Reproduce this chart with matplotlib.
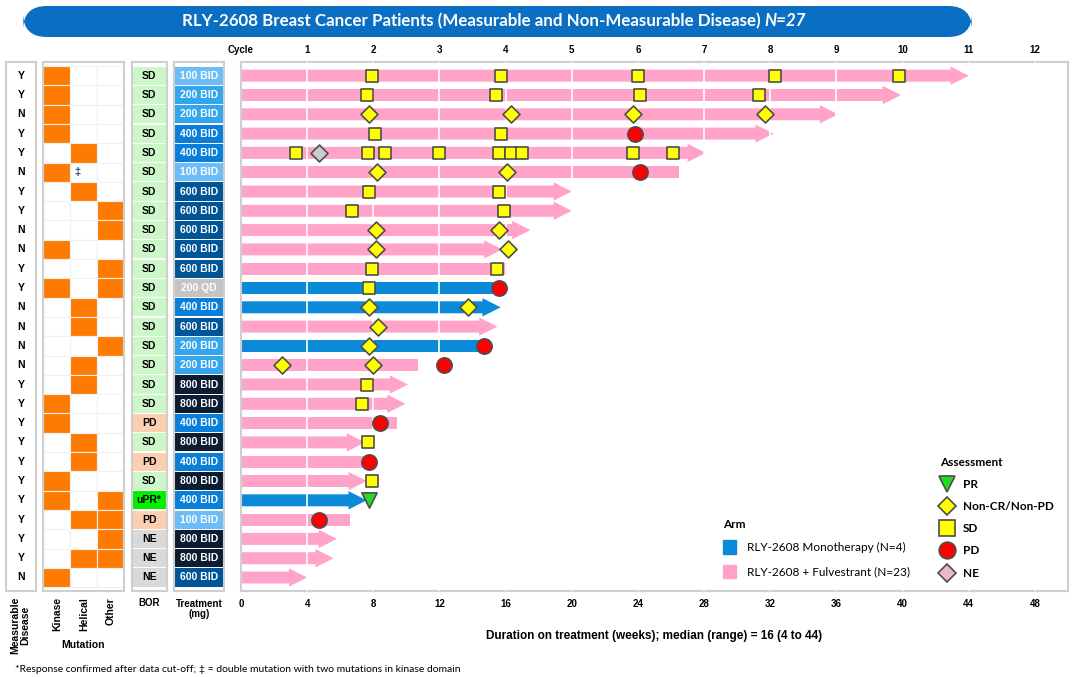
import matplotlib
matplotlib.use('Agg')
import matplotlib.pyplot as plt
from matplotlib.patches import FancyBboxPatch, Rectangle, Patch
from matplotlib.lines import Line2D

# ---- data (one entry per patient, top to bottom) ----
measurable = ['Y','Y','N','Y','Y','N','Y','Y','N','N','Y','Y','N','N','N','N','Y','Y','Y','Y','Y','Y','Y','Y','Y','Y','N']
kinase  = [1,1,1,1,0,1,0,0,0,1,0,1,0,0,0,0,0,1,1,0,0,1,1,0,0,0,1]
helical = [0,0,0,0,1,0,1,0,0,0,0,0,1,1,0,1,1,0,0,1,1,0,0,1,0,1,0]
other   = [0,0,0,0,0,0,0,1,1,0,1,1,0,0,1,0,0,0,0,0,0,0,1,1,1,1,0]
double_mut = [5]   # row index with double kinase mutation
bor = ['SD','SD','SD','SD','SD','SD','SD','SD','SD','SD','SD','SD','SD','SD','SD','SD','SD','SD','PD','SD','PD','SD','uPR*','PD','NE','NE','NE']
treatment = ['100 BID','200 BID','200 BID','400 BID','400 BID','100 BID','600 BID','600 BID','600 BID','600 BID','600 BID','200 QD',
             '400 BID','600 BID','200 BID','200 BID','800 BID','800 BID','400 BID','800 BID','400 BID','800 BID','400 BID','100 BID',
             '800 BID','800 BID','600 BID']
arm = ['F','F','F','F','F','F','F','F','F','F','F','M','M','F','M','F','F','F','F','F','F','F','M','F','F','F','F']
duration = [44.0,39.9,36.1,32.2,28.1,26.5,20.0,20.0,17.5,15.8,16.1,16.0,15.7,15.5,14.8,10.7,10.1,9.95,9.45,7.5,7.5,7.6,7.6,6.6,5.8,5.6,4.0]
ongoing = [1,1,1,1,1,0,1,1,1,1,0,0,1,1,0,0,1,1,0,1,0,1,1,0,1,1,1]

sd_wk  = [[7.9,15.7,24.0,32.3,39.8],[7.6,15.4,24.1,31.3],[],[8.1,15.7],
          [3.3,7.7,8.7,12.0,15.6,16.3,17.0,23.7,26.1],[],[7.75,15.6],[6.7,15.9],[],[],
          [7.9,15.45],[7.75],[],[],[],[],[7.6],[7.3],[],[7.7],[],[7.9],[],[],[],[],[]]
ncr_wk = [[],[],[7.75,16.3,23.7,31.7],[],[],[8.2,16.1],[],[],[8.15,15.6],[8.15,16.15],
          [],[],[7.75,13.7],[8.3],[7.75],[2.45,8.0],[],[],[],[],[],[],[],[],[],[],[]]
pd_wk  = [[],[],[],[23.8],[],[24.1],[],[],[],[],[],[15.6],[],[],[14.7],[12.3],[],[],[8.4],[],[7.75],[],[],[4.7],[],[],[]]
ne_wk  = [[],[],[],[],[4.7],[],[],[],[],[],[],[],[],[],[],[],[],[],[],[],[],[],[],[],[],[],[]]
pr_wk  = [[],[],[],[],[],[],[],[],[],[],[],[],[],[],[],[],[],[],[],[],[],[],[7.75],[],[],[],[]]

week_ticks = list(range(0, 49, 4))
cycle_labels = ['Cycle'] + [str(c) for c in range(1, 13)]

# ---- colours ----
PINK = '#ffa3c9'
BLUE = '#0a8ad9'
ORANGE = '#ff7a00'
GRID = '#cfcfcf'
trt_col = {'100 BID': '#6cbdf7', '200 BID': '#33a6ee', '400 BID': '#0a7fd9',
           '600 BID': '#005597', '800 BID': '#0b1c33', '200 QD': '#c4c4c4'}
bor_col = {'SD': '#cdf7c8', 'PD': '#fbcfb0', 'uPR*': '#00f000', 'NE': '#d9d9d9'}

plt.rcParams['font.family'] = ['Liberation Sans', 'DejaVu Sans']
W, H = 1080, 677
fig = plt.figure(figsize=(W/100, H/100), dpi=100)

n = len(duration)
rows = list(range(n))
TOP, BOT = 62, 591
y0 = 75.7; dy = 19.3
ylim = ((BOT - y0)/dy, -(y0 - TOP)/dy)

def px_axes(x1, x2):
    return fig.add_axes([x1/W, 1 - BOT/H, (x2 - x1)/W, (BOT - TOP)/H])

def frame(a):
    a.set_xticks([]); a.set_yticks([])
    for s in a.spines.values():
        s.set_color(GRID); s.set_linewidth(1.5)
    a.set_ylim(*ylim)

# ---- measurable disease column ----
axm = px_axes(6, 36)
frame(axm); axm.set_xlim(0, 1)
for i in rows:
    axm.text(0.5, i, measurable[i], ha='center', va='center', fontsize=7.5, fontweight='bold')

# ---- mutation columns ----
axu = px_axes(43, 124)
frame(axu); axu.set_xlim(0, 3)
for i in rows:
    for j, col in enumerate([kinase, helical, other]):
        axu.add_patch(Rectangle((j, i - 0.5), 1, 1, facecolor=ORANGE if col[i] else 'white',
                                edgecolor='#f0f0f0', lw=0.8))
for i in double_mut:
    axu.text(1.15, i, '\u2021', ha='left', va='center', fontsize=8, color='#1f3b70', fontweight='bold')

# ---- best overall response ----
axb = px_axes(131.5, 167)
frame(axb); axb.set_xlim(0, 1)
for i in rows:
    axb.add_patch(Rectangle((0.03, i - 0.47), 0.94, 0.94, facecolor=bor_col[bor[i]], edgecolor='none'))
    axb.text(0.5, i, bor[i], ha='center', va='center', fontsize=7.5, fontweight='bold')

# ---- treatment dose ----
axt = px_axes(173.5, 224)
frame(axt); axt.set_xlim(0, 1)
for i in rows:
    axt.add_patch(Rectangle((0.02, i - 0.47), 0.96, 0.94, facecolor=trt_col[treatment[i]], edgecolor='none'))
    axt.text(0.5, i, treatment[i], ha='center', va='center', fontsize=7.5, fontweight='bold', color='white')

# ---- swimmer plot ----
ax = px_axes(241, 1068)
ax.set_xlim(0, 50)
ax.set_ylim(*ylim)
for s in ax.spines.values():
    s.set_color(GRID); s.set_linewidth(1.5)

for i in rows:
    c = BLUE if arm[i] == 'M' else PINK
    if ongoing[i]:
        ax.arrow(0, i, duration[i], 0, width=0.62, head_width=0.95, head_length=1.1,
                 length_includes_head=True, color=c, lw=0, zorder=2)
    else:
        ax.barh(i, duration[i], height=0.62, color=c, zorder=2)
for wk in week_ticks[1:]:
    ax.axvline(wk, color='white', lw=1.2, zorder=3)

mk = dict(edgecolors='#4d4d4d', linewidths=1.2, zorder=5)
def scat(lists, **kw):
    xs = [w for i in rows for w in lists[i]]
    ys = [i for i in rows for w in lists[i]]
    ax.scatter(xs, ys, **kw, **mk)
scat(sd_wk, marker='s', s=80, c='#ffff00')
scat(ncr_wk, marker='D', s=75, c='#ffff00')
scat(pd_wk, marker='o', s=120, c='#ff0000')
scat(ne_wk, marker='D', s=75, c='#cccccc')
scat(pr_wk, marker='v', s=120, c='#22dd22')

ax.set_xticks(week_ticks)
ax.tick_params(axis='x', length=0, pad=6, labelsize=7)
for t in ax.get_xticklabels():
    t.set_fontweight('bold')
ax.set_yticks([])
ax.set_xlabel('Duration on treatment (weeks); median (range) = 16 (4 to 44)',
              fontsize=8.5, fontweight='bold', labelpad=15)

top = ax.secondary_xaxis('top')
top.set_xticks(week_ticks)
top.set_xticklabels(cycle_labels)
top.tick_params(length=0, pad=5, labelsize=7)
for t in top.get_xticklabels():
    t.set_fontweight('bold')
top.spines['top'].set_visible(False)

# ---- legends ----
arm_leg = ax.legend(handles=[Patch(color=BLUE), Patch(color=PINK)],
                    labels=['RLY-2608 Monotherapy (N=4)', 'RLY-2608 + Fulvestrant (N=23)'],
                    title='Arm', loc='upper left', bbox_to_anchor=(712/W, 1 - 508/H),
                    bbox_transform=fig.transFigure, frameon=False, handlelength=1.1, handleheight=1.4,
                    labelspacing=0.9, handletextpad=1.0, alignment='left',
                    prop={'family': 'Lato', 'size': 8.5},
                    title_fontproperties={'family': 'Lato', 'weight': 'bold', 'size': 8.5})
ax.add_artist(arm_leg)
ms = dict(linestyle='none', markeredgecolor='#4d4d4d', markeredgewidth=1.2)
ax.legend(handles=[Line2D([], [], marker='v', markersize=11, markerfacecolor='#22dd22', **ms),
                   Line2D([], [], marker='D', markersize=9, markerfacecolor='#ffff00', **ms),
                   Line2D([], [], marker='s', markersize=11, markerfacecolor='#ffff00', **ms),
                   Line2D([], [], marker='o', markersize=12, markerfacecolor='#ff0000', **ms),
                   Line2D([], [], marker='D', markersize=9, markerfacecolor='#ecb8c4', **ms)],
          labels=['PR', 'Non-CR/Non-PD', 'SD', 'PD', 'NE'],
          title='Assessment', loc='upper left', bbox_to_anchor=(929/W, 1 - 446/H),
          bbox_transform=fig.transFigure, frameon=False, handlelength=1.2,
          labelspacing=0.95, handletextpad=0.75, alignment='left',
          prop={'family': 'Lato', 'size': 8.5, 'weight': 'bold'},
          title_fontproperties={'family': 'Lato', 'weight': 'bold', 'size': 8.5})

# ---- column labels under left tables ----
lab = dict(fontsize=7.5, fontweight='bold', rotation=90, ha='center', va='top')
fig.text(20/W, 1 - 597/H, 'Measurable\nDisease', linespacing=1.0, **lab)
fig.text(57/W, 1 - 597/H, 'Kinase', **lab)
fig.text(84/W, 1 - 597/H, 'Helical', **lab)
fig.text(111/W, 1 - 597/H, 'Other', **lab)
fig.text(83/W, 1 - 645/H, 'Mutation', fontsize=7.5, fontweight='bold', ha='center', va='center')
fig.text(149/W, 1 - 603/H, 'BOR', fontsize=7, fontweight='bold', ha='center', va='center')
fig.text(199/W, 1 - 609/H, 'Treatment\n(mg)', fontsize=7, fontweight='bold', ha='center', va='center', linespacing=1.1)

fig.text(15/W, 1 - 669/H, '*Response confirmed after data cut-off; \u2021 = double mutation with two mutations in kinase domain',
         fontsize=7.5, ha='left', va='center', family=['Lato', 'DejaVu Sans'])

# ---- title banner ----
fig.patches.append(FancyBboxPatch((23/W, 1 - 37/H), (972 - 23)/W, 31/H,
                                  boxstyle='round,pad=0,rounding_size=0.022', mutation_aspect=W/H,
                                  transform=fig.transFigure, facecolor='#0a6fc2', edgecolor='none'))
t1 = fig.text(182/W, 1 - 21.5/H, 'RLY-2608 Breast Cancer Patients (Measurable and Non-Measurable Disease) ',
              fontsize=12.2, fontweight='bold', color='white', ha='left', va='center', family='Lato')
fig.canvas.draw()
bb = t1.get_window_extent()
fig.text(bb.x1/W, 1 - 21.5/H, 'N=27', fontsize=12.2, fontweight='bold', style='italic',
         color='white', ha='left', va='center', family='Lato')

fig.savefig('out.png', dpi=100)
